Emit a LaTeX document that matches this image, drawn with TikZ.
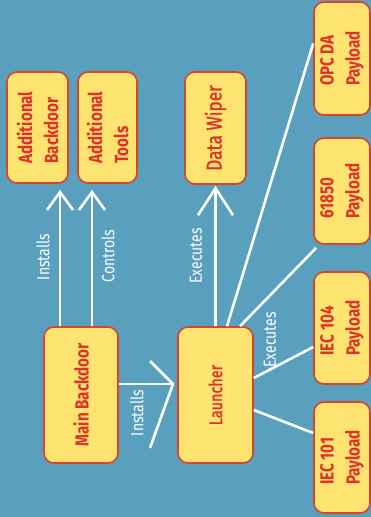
\documentclass[tikz,border=0pt]{standalone}
\usepackage{fontspec}
\setmainfont{Fira Sans}[FakeStretch=0.8]
\newfontfamily\medfont{Fira Sans}[FakeStretch=0.8, FakeBold=1.2]
\usetikzlibrary{arrows.meta}
\definecolor{bgblue}{HTML}{58A0BE}
\definecolor{boxyellow}{HTML}{FDE370}
\definecolor{boxred}{HTML}{D9442F}
\definecolor{textred}{HTML}{E2302A}

\begin{document}
\begin{tikzpicture}[x=1pt, y=1pt,
  box/.style={draw=boxred, fill=boxyellow, line width=1.6pt, rounded corners=10pt,
    rotate=90, align=left, text=textred, inner sep=0pt,
    font=\fontsize{19}{26}\selectfont\bfseries},
  payload/.style={box, minimum width=112pt, minimum height=56pt},
  lbl/.style={rotate=90, text=white, inner sep=0pt, font=\fontsize{17.5}{20}\selectfont},
  line/.style={draw=white, line width=2.6pt},
  arr/.style={line, -{Straight Barb[length=18pt, width=26pt]}, shorten >=6pt}]
\fill[bgblue] (0,0) rectangle (371,-517);
\useasboundingbox (0,0) rectangle (371,-517);

\node[box, minimum width=111pt, minimum height=61pt] (addback) at (37.5,-127.5) {Additional\\Backdoor};
\node[box, minimum width=111pt, minimum height=59pt] (addtools) at (107.5,-127.5) {Additional\\Tools};
\node[box, minimum width=112pt, minimum height=61pt,
  font=\medfont\fontsize{21.5}{24}\selectfont] (wiper) at (215.5,-128) {Data Wiper};
\node[box, minimum width=136pt, minimum height=74pt] (main) at (81,-395) {Main Backdoor};
\node[box, minimum width=136pt, minimum height=75pt,
  font=\medfont\fontsize{18}{20}\selectfont] (launch) at (215.5,-395) {Launcher};
\node[payload, minimum width=113pt] (opcda) at (342,-58.5) {OPC DA\\Payload};
\node[payload, minimum width=106pt] (iec61850) at (342,-191) {61850\\Payload};
\node[payload] (iec104) at (342,-328) {IEC 104\\Payload};
\node[payload, minimum width=111pt] (iec101) at (342,-457.5) {IEC 101\\Payload};

% main backdoor
\coordinate (cback) at (60,0);
\coordinate (ctools) at (92,0);
\coordinate (cinst) at (0,-384);
\coordinate (tipinst) at (173,-384);
\draw[arr] (main.east -| cback) -- (addback.west -| cback);
\draw[arr] (main.east -| ctools) -- (addtools.west -| ctools);
\draw[line, shorten >=5pt] (main.south |- cinst) -- (launch.north |- cinst);
\draw[line] (tipinst) ++(-23,23) -- (tipinst) -- ++(-23,-64);

% launcher
\draw[line, -{Straight Barb[length=27pt, width=35pt]}, shorten >=1pt] (launch.east) -- (wiper.west);
\draw[line] ([xshift=11.5pt]launch.east) -- ([yshift=15pt]opcda.north);
\draw[line] ([xshift=24.5pt]launch.east) -- ([shift={(3pt,-3pt)}]iec61850.north west);
\draw[line] ([yshift=17pt]launch.south) -- ([yshift=-19pt]iec104.north);
\draw[line] ([yshift=-15pt]launch.south) -- ([yshift=24.5pt]iec101.north);

\node[lbl] (linstback) at (43,-257) {Installs};
\node[lbl] (lcontrols) at (108,-256) {Controls};
\node[lbl] (lexecwiper) at (196,-256) {Executes};
\node[lbl] (linstlaunch) at (137,-413) {Installs};
\node[lbl] (lexecpay) at (270,-340) {Executes};
\end{tikzpicture}
\end{document}
